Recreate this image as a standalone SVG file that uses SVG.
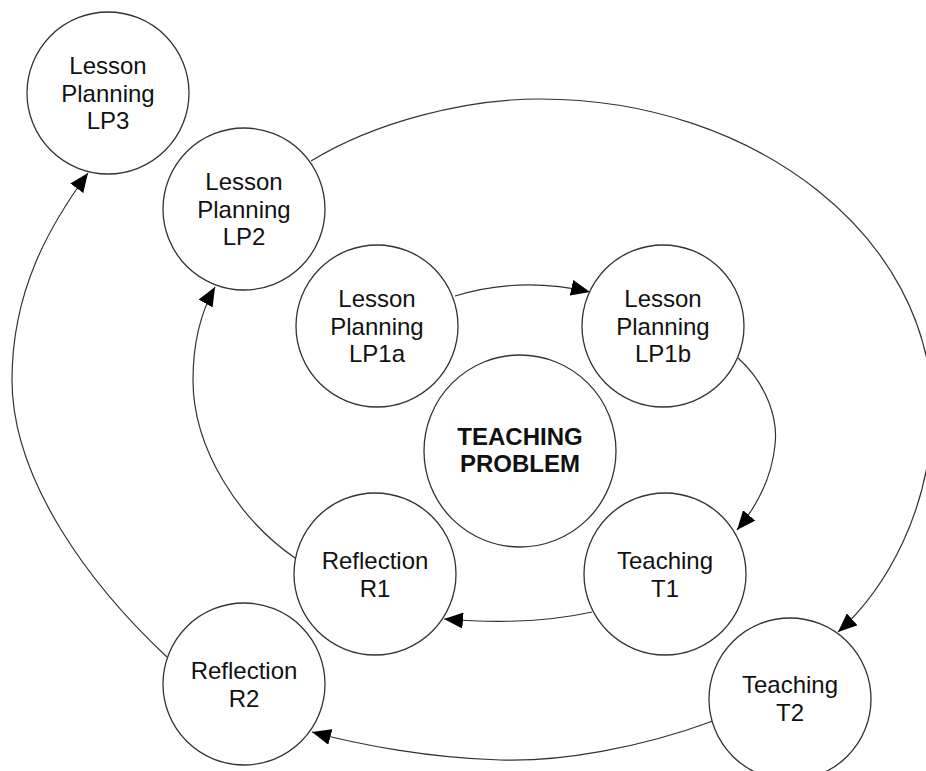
<svg xmlns="http://www.w3.org/2000/svg" width="926" height="771" viewBox="0 0 926 771">
  <style>
    .node circle { fill: #ffffff; stroke: #333333; stroke-width: 1.3; }
    .node text { font-family: "Liberation Sans", Arial, sans-serif; font-size: 24px; fill: #111111; text-anchor: middle; }
    .node text.bold { font-weight: bold; }
    .edge { fill: none; stroke: #333333; stroke-width: 1.2; marker-end: url(#arrow); }
  </style>
  <defs>
    <marker id="arrow" markerUnits="userSpaceOnUse" viewBox="0 0 19 16" markerWidth="19" markerHeight="16" refX="19" refY="8" orient="auto">
      <path d="M0,0 L19,8 L0,16 z" fill="#000000"/>
    </marker>
  </defs>
  <rect width="926" height="771" fill="#ffffff"/>

  <!-- connectors -->
  <g id="connectors">
    <path class="edge" d="M455,296 Q520,276 590,292"/>
    <path class="edge" d="M738,358 C768,385 778,420 775,445 C772,475 758,505 737,530"/>
    <path class="edge" d="M592,612 Q530,626 444,619"/>
    <path class="edge" d="M295,558 C240,520 193,450 193,380 C193,340 202,310 215,287"/>
    <path class="edge" d="M311,161 C375,122 465,99 540,99 C756,99 932,238 932,410 C932,510 885,590 838,632"/>
    <path class="edge" d="M713,721 C640,748 560,762 500,760 C430,758 360,745 312,732"/>
    <path class="edge" d="M167,657 C90,585 12,480 12,380 C12,290 50,225 88,173"/>
  </g>

  <!-- nodes -->
  <g id="lp3" class="node">
    <circle cx="108" cy="93" r="81"/>
    <text><tspan x="108" y="74">Lesson</tspan><tspan x="108" y="101.5">Planning</tspan><tspan x="108" y="129">LP3</tspan></text>
  </g>
  <g id="lp2" class="node">
    <circle cx="244" cy="209" r="81"/>
    <text><tspan x="244" y="190">Lesson</tspan><tspan x="244" y="217.5">Planning</tspan><tspan x="244" y="245">LP2</tspan></text>
  </g>
  <g id="lp1a" class="node">
    <circle cx="377" cy="326" r="81"/>
    <text><tspan x="377" y="307">Lesson</tspan><tspan x="377" y="334.5">Planning</tspan><tspan x="377" y="362">LP1a</tspan></text>
  </g>
  <g id="lp1b" class="node">
    <circle cx="663" cy="326" r="81"/>
    <text><tspan x="663" y="307">Lesson</tspan><tspan x="663" y="334.5">Planning</tspan><tspan x="663" y="362">LP1b</tspan></text>
  </g>
  <g id="teaching-problem" class="node">
    <circle cx="520" cy="451" r="96"/>
    <text class="bold"><tspan x="520" y="444.5">TEACHING</tspan><tspan x="520" y="472">PROBLEM</tspan></text>
  </g>
  <g id="r1" class="node">
    <circle cx="375" cy="574" r="81"/>
    <text><tspan x="375" y="569">Reflection</tspan><tspan x="375" y="596.5">R1</tspan></text>
  </g>
  <g id="t1" class="node">
    <circle cx="665" cy="574" r="81"/>
    <text><tspan x="665" y="569">Teaching</tspan><tspan x="665" y="596.5">T1</tspan></text>
  </g>
  <g id="r2" class="node">
    <circle cx="244" cy="684" r="81"/>
    <text><tspan x="244" y="679">Reflection</tspan><tspan x="244" y="706.5">R2</tspan></text>
  </g>
  <g id="t2" class="node">
    <circle cx="790" cy="699" r="81"/>
    <text><tspan x="790" y="693">Teaching</tspan><tspan x="790" y="720.5">T2</tspan></text>
  </g>
</svg>
